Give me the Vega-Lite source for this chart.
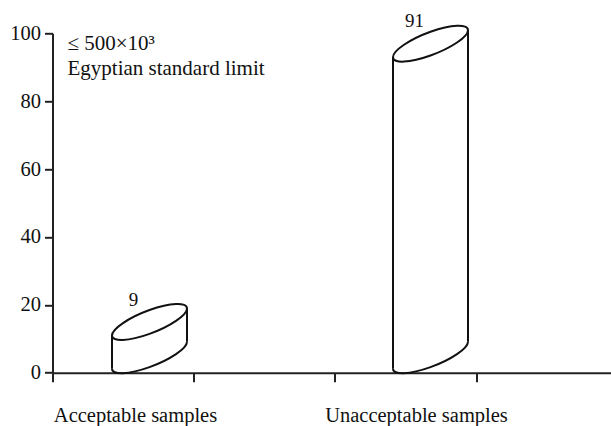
{
  "$schema": "https://vega.github.io/schema/vega-lite/v6.json",
  "width": 558.5,
  "height": 339.4,
  "autosize": "none",
  "padding": {"left": 52.5, "top": 33.3, "right": 0, "bottom": 53.3},
  "background": "white",
  "config": {
    "view": {"stroke": null},
    "font": "Liberation Serif",
    "axis": {"grid": false, "domainColor": "#222", "tickColor": "#222", "domainWidth": 2, "tickWidth": 2, "labelColor": "#111", "labelFont": "Liberation Serif", "labelFontSize": 20.5}
  },
  "data": {"name": "bars", "values": [
    {"category": "Acceptable samples", "value": 9},
    {"category": "Unacceptable samples", "value": 91}
  ]},
  "resolve": {"scale": {"x": "independent"}, "axis": {"x": "independent"}},
  "layer": [
    {
      "layer": [
        {
          "mark": {"type": "point", "opacity": 0},
          "encoding": {
            "x": {"datum": 0, "type": "quantitative", "title": null,
              "scale": {"domain": [0, 3.955], "nice": false, "zero": false},
              "axis": {"orient": "bottom", "values": [0, 1, 2, 3], "labels": false, "tickSize": 9, "domain": true}},
            "y": {"datum": 0, "type": "quantitative", "title": null,
              "scale": {"domain": [0, 100], "nice": false},
              "axis": {"orient": "left", "values": [0, 20, 40, 60, 80, 100], "tickSize": 8, "labelPadding": 4}}
          }
        },
        {
          "data": {"values": [{"note": ["≤ 500×10³", "Egyptian standard limit"]}]},
          "mark": {"type": "text", "align": "left", "baseline": "alphabetic", "fontSize": 21, "lineHeight": 25, "color": "#111", "font": "Liberation Serif"},
          "encoding": {
            "x": {"datum": 0.106, "type": "quantitative"},
            "y": {"datum": 95.08, "type": "quantitative", "title": null},
            "text": {"field": "note"}
          }
        }
      ]
    },
    {
      "encoding": {
        "x": {"field": "category", "type": "nominal", "title": null, "sort": null,
          "scale": {"type": "point", "range": [97, 378], "padding": 0},
          "axis": {"orient": "bottom", "ticks": false, "tickSize": 0, "domain": false, "labelAngle": 0, "labelOffset": -14.5, "labelBaseline": "alphabetic", "labelPadding": 48.5, "labelLimit": 0, "labelFontSize": 20.5}}
      },
      "layer": [
        {
          "mark": {"type": "rule", "xOffset": -37.5, "yOffset": -6.7, "y2Offset": -4, "strokeWidth": 2, "color": "#111"},
          "encoding": {
            "y": {"field": "value", "type": "quantitative", "title": null},
            "y2": {"datum": 0}
          }
        },
        {
          "mark": {"type": "rule", "xOffset": 37.5, "yOffset": -33.7, "y2Offset": -31, "strokeWidth": 2, "color": "#111"},
          "encoding": {
            "y": {"field": "value", "type": "quantitative", "title": null},
            "y2": {"datum": 0}
          }
        },
        {
          "mark": {"type": "point", "filled": false, "opacity": 1, "strokeWidth": 2, "color": "#111", "size": 5625, "yOffset": -17.5,
            "shape": "M1,-0.36 C1,-0.1848 0.5523,0.1185 0,0.3173 C-0.5523,0.5161 -1,0.5352 -1,0.36"},
          "encoding": {
            "y": {"datum": 0, "type": "quantitative", "title": null}
          }
        },
        {
          "mark": {"type": "point", "filled": false, "opacity": 1, "strokeWidth": 2, "color": "#111", "size": 5625, "yOffset": -20.2,
            "shape": "M1,-0.36 C1,-0.1848 0.5523,0.1185 0,0.3173 C-0.5523,0.5161 -1,0.5352 -1,0.36 C-1,0.1848 -0.5523,-0.1185 0,-0.3173 C0.5523,-0.5161 1,-0.5352 1,-0.36 Z"},
          "encoding": {
            "y": {"field": "value", "type": "quantitative", "title": null}
          }
        },
        {
          "mark": {"type": "text", "align": "center", "baseline": "alphabetic", "fontSize": 19, "color": "#111", "font": "Liberation Serif", "xOffset": -16, "yOffset": -36.5},
          "encoding": {
            "y": {"field": "value", "type": "quantitative", "title": null},
            "text": {"field": "value", "type": "quantitative"}
          }
        }
      ]
    }
  ]
}
